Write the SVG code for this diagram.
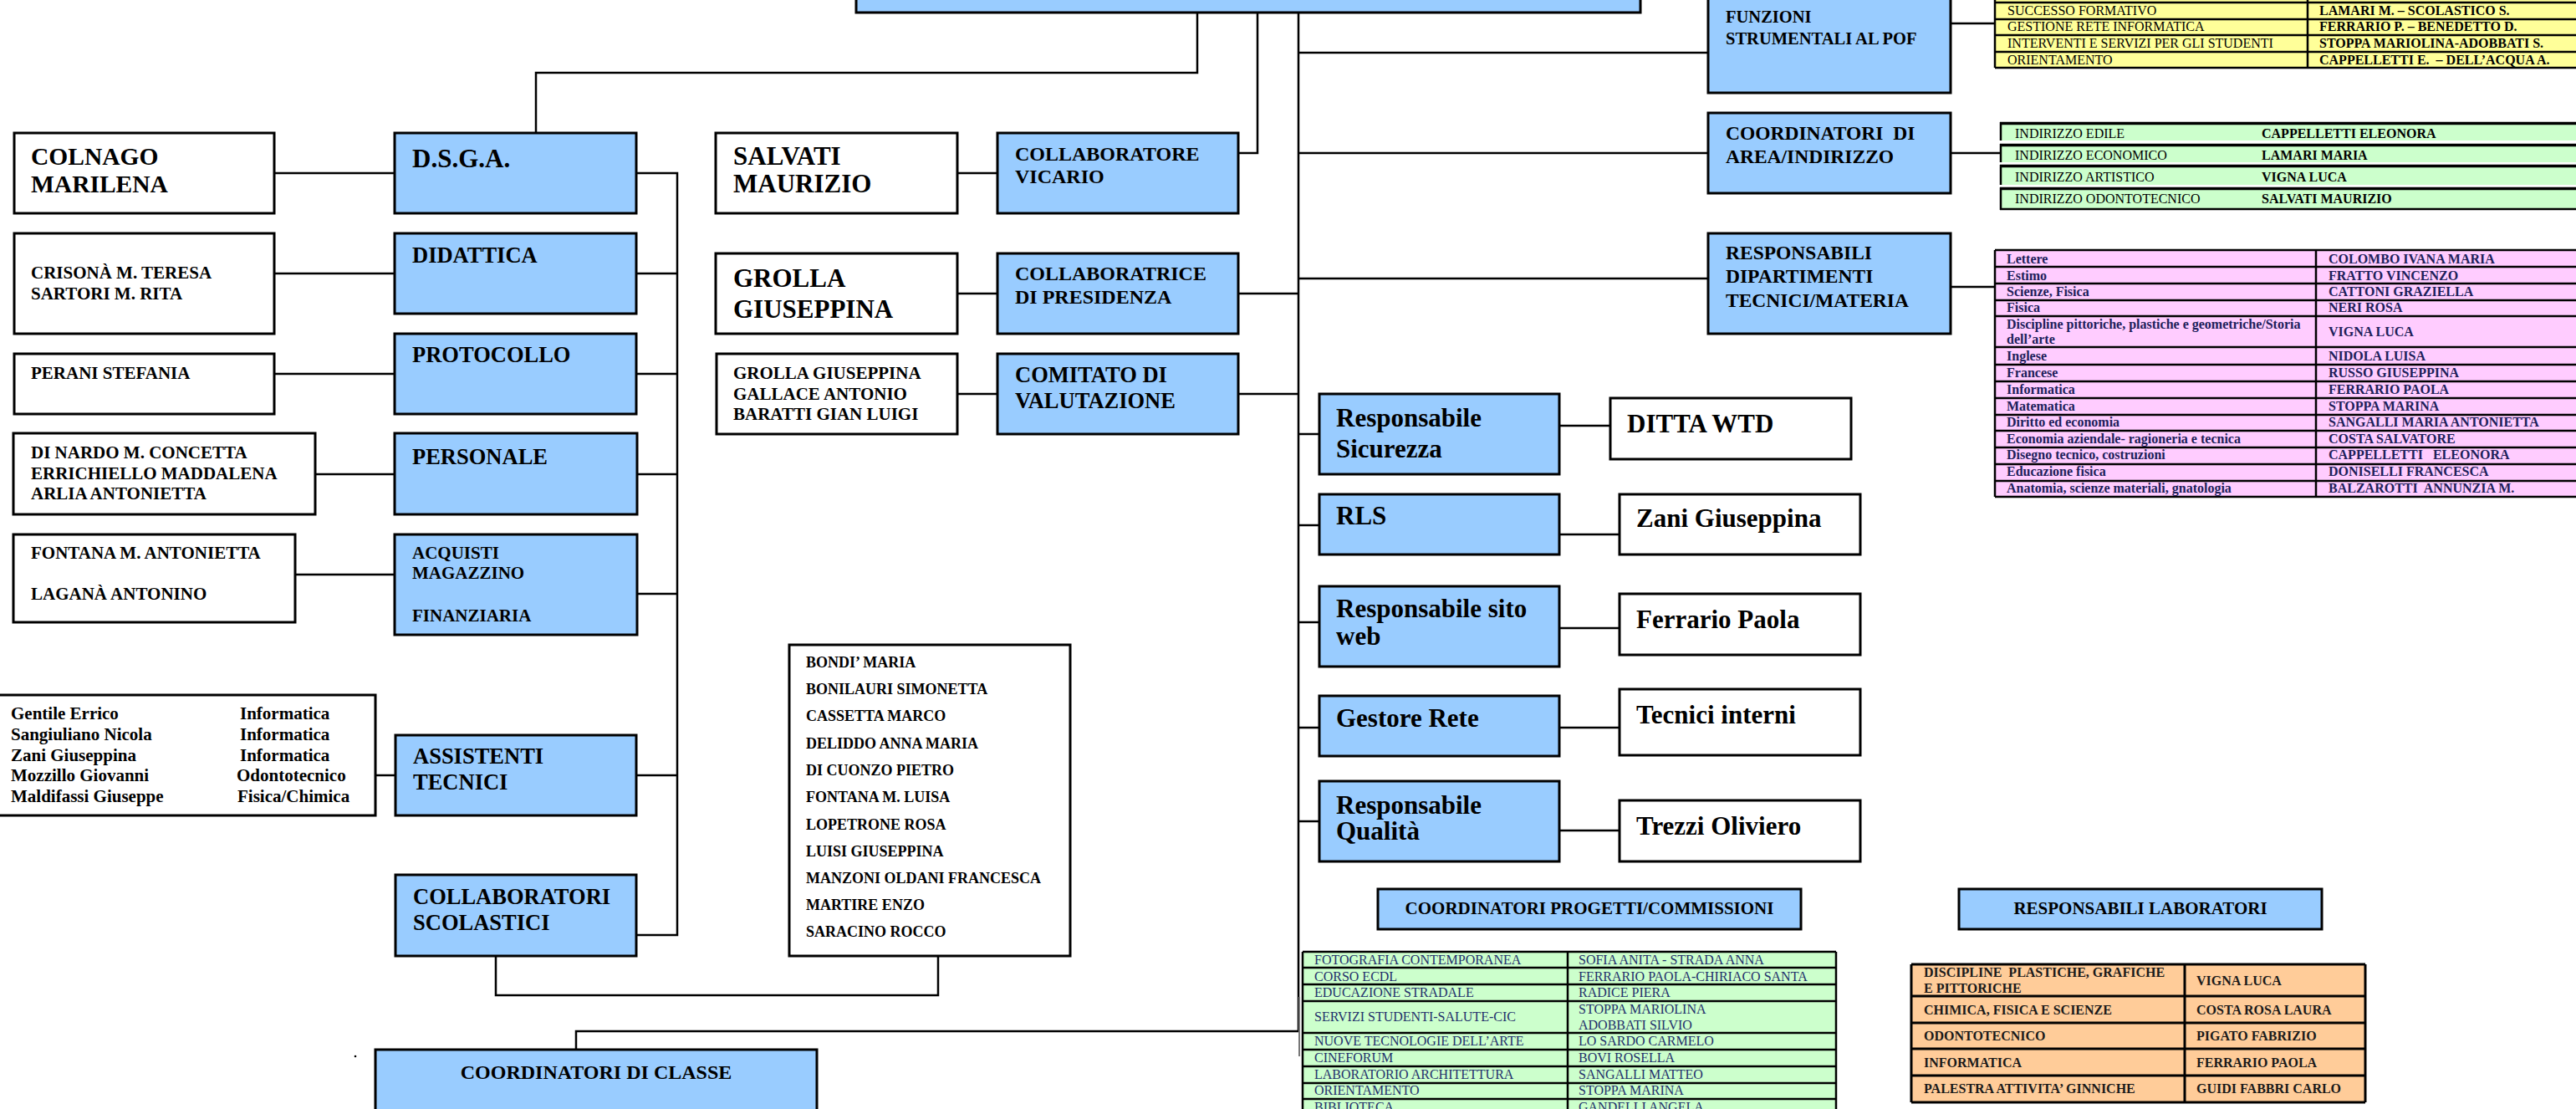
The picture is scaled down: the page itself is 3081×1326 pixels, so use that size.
<svg xmlns="http://www.w3.org/2000/svg" width="3081" height="1326" viewBox="0 0 3081 1326">
<style>
.b{fill:#99CCFF;stroke:#000;stroke-width:3}
.w{fill:#fff;stroke:#000;stroke-width:3}
.c{fill:none;stroke:#000;stroke-width:2.5}
.g{fill:none;stroke:#000;stroke-width:2.5}
text{font-family:"Liberation Serif","Times New Roman",serif;font-weight:bold;fill:#000}
.f21{font-size:21px}.f24{font-size:24px}.f26{font-size:26.5px}.f29{font-size:29.5px}.f30{font-size:31px}.f31{font-size:31px}
.f20{font-size:20.5px}.f23{font-size:23.5px}
.tb{font-size:16px}
.reg{font-weight:normal}
.navy{fill:#1F2F6B}
.pk{fill:#20205A}
.dk{fill:#1A1A1A}
</style>
<rect width="3081" height="1326" fill="#fff"/>

<g id="connectors">
  <path class="c" d="M1432 15V87H641V159"/>
  <path class="c" d="M1504 15V183H1481"/>
  <path class="c" d="M1553 15V1233"/>
  <path d="M1554 1192V1263" stroke="#777" stroke-width="2" fill="none"/>
  <path class="c" d="M1553 63H2043M1553 183H2043M1553 333H2043"/>
  <path class="c" d="M1481 351H1553M1481 471H1553"/>
  <path class="c" d="M1553 519H1578M1553 628H1578M1553 744H1578M1553 870H1578M1553 982H1578"/>
  <path class="c" d="M1865 509H1926M1865 639H1937M1865 751H1937M1865 870H1937M1865 993H1937"/>
  <path class="c" d="M2333 28H2386M2333 183H2392M2333 343H2386"/>
  <path class="c" d="M1145 207H1193M1145 351H1193M1145 471H1193"/>
  <path class="c" d="M761 207H810V1118H761"/>
  <path class="c" d="M761 327H810M761 447H810M762 567H810M762 710H810M761 927H810"/>
  <path class="c" d="M328 207H472M328 327H472M328 447H472M377 567H472M353 687H472M449 927H473"/>
  <path class="c" d="M593 1143V1190H1122V1143"/>
  <path class="c" d="M1553 1233H689V1255"/>
  <circle cx="425" cy="1263" r="1.3" fill="#000"/>
</g>

<g id="header"><rect class="b" x="1024" y="-40" width="938" height="55"/></g>

<g id="colnago"><rect class="w" x="17" y="159" width="311" height="96"/>
<text class="f29" x="37" y="197">COLNAGO</text><text class="f29" x="37" y="230">MARILENA</text></g>
<g id="dsga"><rect class="b" x="472" y="159" width="289" height="96"/><text class="f31" x="493" y="200">D.S.G.A.</text></g>

<g id="crisona"><rect class="w" x="17" y="279" width="311" height="120"/>
<text class="f21" x="37" y="333">CRISONÀ M. TERESA</text><text class="f21" x="37" y="358">SARTORI M. RITA</text></g>
<g id="didattica"><rect class="b" x="472" y="279" width="289" height="96"/><text class="f26" x="493" y="314">DIDATTICA</text></g>

<g id="perani"><rect class="w" x="17" y="423" width="311" height="72"/><text class="f21" x="37" y="453">PERANI STEFANIA</text></g>
<g id="protocollo"><rect class="b" x="472" y="399" width="289" height="96"/><text class="f26" x="493" y="433">PROTOCOLLO</text></g>

<g id="dinardo"><rect class="w" x="16" y="518" width="361" height="97"/>
<text class="f21" x="37" y="548">DI NARDO M. CONCETTA</text><text class="f21" x="37" y="573">ERRICHIELLO MADDALENA</text><text class="f21" x="37" y="597">ARLIA ANTONIETTA</text></g>
<g id="personale"><rect class="b" x="472" y="518" width="290" height="97"/><text class="f26" x="493" y="555">PERSONALE</text></g>

<g id="fontana"><rect class="w" x="16" y="639" width="337" height="105"/>
<text class="f21" x="37" y="668">FONTANA M. ANTONIETTA</text><text class="f21" x="37" y="717">LAGANÀ ANTONINO</text></g>
<g id="acquisti"><rect class="b" x="472" y="639" width="290" height="120"/>
<text class="f21" x="493" y="668">ACQUISTI</text><text class="f21" x="493" y="692">MAGAZZINO</text><text class="f21" x="493" y="743">FINANZIARIA</text></g>

<g id="gentile"><rect class="w" x="-3" y="831" width="452" height="144"/>
<text class="f21" x="13" y="860">Gentile Errico</text><text class="f21" x="287" y="860">Informatica</text>
<text class="f21" x="13" y="885">Sangiuliano Nicola</text><text class="f21" x="287" y="885">Informatica</text>
<text class="f21" x="13" y="910">Zani Giuseppina</text><text class="f21" x="287" y="910">Informatica</text>
<text class="f21" x="13" y="934">Mozzillo Giovanni</text><text class="f21" x="283" y="934">Odontotecnico</text>
<text class="f21" x="13" y="959">Maldifassi Giuseppe</text><text class="f21" x="284" y="959">Fisica/Chimica</text></g>
<g id="assistenti"><rect class="b" x="473" y="879" width="288" height="96"/>
<text class="f26" x="494" y="913">ASSISTENTI</text><text class="f26" x="494" y="944">TECNICI</text></g>

<g id="collaboratori-scolastici"><rect class="b" x="473" y="1046" width="288" height="97"/>
<text class="f26" x="494" y="1081">COLLABORATORI</text><text class="f26" x="494" y="1112">SCOLASTICI</text></g>

<g id="coordinatori-classe"><rect class="b" x="449" y="1255" width="528" height="100"/>
<text class="f24" x="713" y="1290" text-anchor="middle">COORDINATORI DI CLASSE</text></g>

<g id="salvati"><rect class="w" x="856" y="159" width="289" height="96"/>
<text class="f30" x="877" y="197">SALVATI</text><text class="f30" x="877" y="230">MAURIZIO</text></g>
<g id="grolla"><rect class="w" x="856" y="303" width="289" height="96"/>
<text class="f30" x="877" y="343">GROLLA</text><text class="f30" x="877" y="380">GIUSEPPINA</text></g>
<g id="comitato-membri"><rect class="w" x="857" y="423" width="288" height="96"/>
<text class="f21" x="877" y="453">GROLLA GIUSEPPINA</text><text class="f21" x="877" y="478">GALLACE ANTONIO</text><text class="f21" x="877" y="502">BARATTI GIAN LUIGI</text></g>

<g id="bondi"><rect class="w" x="944" y="771" width="336" height="372"/>
<g font-size="18">
<text x="964" y="798">BONDI’ MARIA</text><text x="964" y="830">BONILAURI SIMONETTA</text><text x="964" y="862">CASSETTA MARCO</text>
<text x="964" y="895">DELIDDO ANNA MARIA</text><text x="964" y="927">DI CUONZO PIETRO</text><text x="964" y="959">FONTANA M. LUISA</text>
<text x="964" y="992">LOPETRONE ROSA</text><text x="964" y="1024">LUISI GIUSEPPINA</text><text x="964" y="1056">MANZONI OLDANI FRANCESCA</text>
<text x="964" y="1088">MARTIRE ENZO</text><text x="964" y="1120">SARACINO ROCCO</text></g></g>

<g id="vicario"><rect class="b" x="1193" y="159" width="288" height="96"/>
<text class="f24" x="1214" y="192">COLLABORATORE</text><text class="f24" x="1214" y="219">VICARIO</text></g>
<g id="collaboratrice"><rect class="b" x="1193" y="303" width="288" height="96"/>
<text class="f24" x="1214" y="335">COLLABORATRICE</text><text class="f24" x="1214" y="363">DI PRESIDENZA</text></g>
<g id="comitato"><rect class="b" x="1193" y="423" width="288" height="96"/>
<text class="f26" x="1214" y="457">COMITATO DI</text><text class="f26" x="1214" y="488">VALUTAZIONE</text></g>

<g id="sicurezza"><rect class="b" x="1578" y="471" width="287" height="96"/>
<text class="f31" x="1598" y="510">Responsabile</text><text class="f31" x="1598" y="547">Sicurezza</text></g>
<g id="ditta"><rect class="w" x="1926" y="476" width="288" height="73"/><text class="f31" x="1946" y="517">DITTA WTD</text></g>
<g id="rls"><rect class="b" x="1578" y="591" width="287" height="72"/><text class="f31" x="1598" y="627">RLS</text></g>
<g id="zani"><rect class="w" x="1937" y="591" width="288" height="72"/><text class="f31" x="1957" y="630">Zani Giuseppina</text></g>
<g id="sito"><rect class="b" x="1578" y="701" width="287" height="96"/>
<text class="f31" x="1598" y="738">Responsabile sito</text><text class="f31" x="1598" y="771">web</text></g>
<g id="ferrario"><rect class="w" x="1937" y="710" width="288" height="73"/><text class="f31" x="1957" y="751">Ferrario Paola</text></g>
<g id="rete"><rect class="b" x="1578" y="832" width="287" height="72"/><text class="f31" x="1598" y="869">Gestore Rete</text></g>
<g id="tecnici"><rect class="w" x="1937" y="824" width="288" height="79"/><text class="f31" x="1957" y="865">Tecnici interni</text></g>
<g id="qualita"><rect class="b" x="1578" y="934" width="287" height="96"/>
<text class="f31" x="1598" y="973">Responsabile</text><text class="f31" x="1598" y="1004">Qualità</text></g>
<g id="trezzi"><rect class="w" x="1937" y="957" width="288" height="73"/><text class="f31" x="1957" y="998">Trezzi Oliviero</text></g>

<g id="funzioni"><rect class="b" x="2043" y="-10" width="290" height="121"/>
<text class="f20" x="2064" y="27">FUNZIONI</text><text class="f20" x="2064" y="53">STRUMENTALI AL POF</text></g>
<g id="coord-area"><rect class="b" x="2043" y="135" width="290" height="96"/>
<text class="f23" x="2064" y="167">COORDINATORI&#160; DI</text><text class="f23" x="2064" y="195">AREA/INDIRIZZO</text></g>
<g id="resp-dipartimenti"><rect class="b" x="2043" y="279" width="290" height="120"/>
<text class="f23" x="2064" y="310">RESPONSABILI</text><text class="f23" x="2064" y="338">DIPARTIMENTI</text><text class="f23" x="2064" y="367">TECNICI/MATERIA</text></g>

<g id="tabella-funzioni">
<rect x="2386" y="-20" width="720" height="101" fill="#FFFF99"/>
<path class="g" d="M2386 -20V81M2760 -20V81M2386 3H3100M2386 23H3100M2386 42H3100M2386 62H3100M2386 81H3100"/>
<g font-size="16">
<text class="reg" x="2401" y="18" fill="#222">SUCCESSO FORMATIVO</text><text x="2774" y="18" fill="#222">LAMARI M. – SCOLASTICO S.</text>
<text class="reg" x="2401" y="37" fill="#222">GESTIONE RETE INFORMATICA</text><text x="2774" y="37" fill="#222">FERRARIO P. – BENEDETTO D.</text>
<text class="reg" x="2401" y="57" fill="#222">INTERVENTI E SERVIZI PER GLI STUDENTI</text><text x="2774" y="57" fill="#222">STOPPA MARIOLINA-ADOBBATI S.</text>
<text class="reg" x="2401" y="77" fill="#222">ORIENTAMENTO</text><text x="2774" y="77" fill="#222" xml:space="preserve">CAPPELLETTI E.  – DELL’ACQUA A.</text></g></g>

<g id="tabella-indirizzi">
<rect x="2393" y="147" width="700" height="21" fill="#CCFFCC"/>
<rect x="2393" y="173" width="700" height="21" fill="#CCFFCC"/>
<rect x="2393" y="198" width="700" height="23" fill="#CCFFCC"/>
<rect x="2393" y="225" width="700" height="25" fill="#CCFFCC"/>
<path d="M2392 147.5H3100M2392 173.5H3100M2392 198.5H3100M2392 225.5H3100" stroke="#000" stroke-width="3.5"/>
<path d="M2393 146V168M2393 172V194M2393 197V221M2393 224V251M2392 250H3100" stroke="#000" stroke-width="2.5"/>
<g font-size="16">
<text class="reg" x="2410" y="165" fill="#222">INDIRIZZO EDILE</text><text x="2705" y="165" fill="#222">CAPPELLETTI ELEONORA</text>
<text class="reg" x="2410" y="191" fill="#222">INDIRIZZO ECONOMICO</text><text x="2705" y="191" fill="#222">LAMARI MARIA</text>
<text class="reg" x="2410" y="217" fill="#222">INDIRIZZO ARTISTICO</text><text x="2705" y="217" fill="#222">VIGNA LUCA</text>
<text class="reg" x="2410" y="243" fill="#222">INDIRIZZO ODONTOTECNICO</text><text x="2705" y="243" fill="#222">SALVATI MAURIZIO</text></g></g>

<g id="tabella-dipartimenti">
<rect x="2386" y="299" width="720" height="295" fill="#FFCCFF"/>
<path class="g" d="M2386 299V594M2770 299V594M2386 299H3100M2386 319H3100M2386 339H3100M2386 359H3100M2386 378H3100M2386 415H3100M2386 436H3100M2386 456H3100M2386 476H3100M2386 496H3100M2386 515H3100M2386 535H3100M2386 555H3100M2386 575H3100M2386 594H3100"/>
<g font-size="16">
<text class="pk" x="2400" y="315">Lettere</text><text class="pk" x="2785" y="315">COLOMBO IVANA MARIA</text>
<text class="pk" x="2400" y="335">Estimo</text><text class="pk" x="2785" y="335">FRATTO VINCENZO</text>
<text class="pk" x="2400" y="354">Scienze, Fisica</text><text class="pk" x="2785" y="354">CATTONI GRAZIELLA</text>
<text class="pk" x="2400" y="373">Fisica</text><text class="pk" x="2785" y="373">NERI ROSA</text>
<text class="pk" x="2400" y="393">Discipline pittoriche, plastiche e geometriche/Storia</text><text class="pk" x="2400" y="411">dell’arte</text><text class="pk" x="2785" y="402">VIGNA LUCA</text>
<text class="pk" x="2400" y="431">Inglese</text><text class="pk" x="2785" y="431">NIDOLA LUISA</text>
<text class="pk" x="2400" y="451">Francese</text><text class="pk" x="2785" y="451">RUSSO GIUSEPPINA</text>
<text class="pk" x="2400" y="471">Informatica</text><text class="pk" x="2785" y="471">FERRARIO PAOLA</text>
<text class="pk" x="2400" y="491">Matematica</text><text class="pk" x="2785" y="491">STOPPA MARINA</text>
<text class="pk" x="2400" y="510">Diritto ed economia</text><text class="pk" x="2785" y="510">SANGALLI MARIA ANTONIETTA</text>
<text class="pk" x="2400" y="530">Economia aziendale- ragioneria e tecnica</text><text class="pk" x="2785" y="530">COSTA SALVATORE</text>
<text class="pk" x="2400" y="549">Disegno tecnico, costruzioni</text><text class="pk" x="2785" y="549" xml:space="preserve">CAPPELLETTI   ELEONORA</text>
<text class="pk" x="2400" y="569">Educazione fisica</text><text class="pk" x="2785" y="569">DONISELLI FRANCESCA</text>
<text class="pk" x="2400" y="589">Anatomia, scienze materiali, gnatologia</text><text class="pk" x="2785" y="589" xml:space="preserve">BALZAROTTI  ANNUNZIA M.</text></g></g>

<g id="coord-progetti"><rect class="b" x="1648" y="1063" width="506" height="48"/>
<text font-size="21" x="1901" y="1093" text-anchor="middle">COORDINATORI PROGETTI/COMMISSIONI</text></g>
<g id="tabella-progetti">
<rect x="1558" y="1138" width="638" height="200" fill="#CCFFCC"/>
<path class="g" d="M1558 1138V1340M1875 1138V1340M2196 1138V1340M1558 1138H2196M1558 1157H2196M1558 1177H2196M1558 1197H2196M1558 1235H2196M1558 1255H2196M1558 1275H2196M1558 1295H2196M1558 1314H2196"/>
<g font-size="16">
<text class="reg navy" x="1572" y="1153">FOTOGRAFIA CONTEMPORANEA</text><text class="reg navy" x="1888" y="1153">SOFIA ANITA - STRADA ANNA</text>
<text class="reg navy" x="1572" y="1173">CORSO ECDL</text><text class="reg navy" x="1888" y="1173">FERRARIO PAOLA-CHIRIACO SANTA</text>
<text class="reg navy" x="1572" y="1192">EDUCAZIONE STRADALE</text><text class="reg navy" x="1888" y="1192">RADICE PIERA</text>
<text class="reg navy" x="1572" y="1221">SERVIZI STUDENTI-SALUTE-CIC</text><text class="reg navy" x="1888" y="1212">STOPPA MARIOLINA</text><text class="reg navy" x="1888" y="1231">ADOBBATI SILVIO</text>
<text class="reg navy" x="1572" y="1250">NUOVE TECNOLOGIE DELL’ARTE</text><text class="reg navy" x="1888" y="1250">LO SARDO CARMELO</text>
<text class="reg navy" x="1572" y="1270">CINEFORUM</text><text class="reg navy" x="1888" y="1270">BOVI ROSELLA</text>
<text class="reg navy" x="1572" y="1290">LABORATORIO ARCHITETTURA</text><text class="reg navy" x="1888" y="1290">SANGALLI MATTEO</text>
<text class="reg navy" x="1572" y="1309">ORIENTAMENTO</text><text class="reg navy" x="1888" y="1309">STOPPA MARINA</text>
<text class="reg navy" x="1572" y="1329">BIBLIOTECA</text><text class="reg navy" x="1888" y="1329">GANDELLI ANGELA</text></g></g>

<g id="resp-laboratori"><rect class="b" x="2343" y="1063" width="434" height="48"/>
<text font-size="21" x="2560" y="1093" text-anchor="middle">RESPONSABILI LABORATORI</text></g>
<g id="tabella-laboratori">
<rect x="2286" y="1153" width="543" height="165" fill="#FFCC99"/>
<path d="M2286 1153V1318M2613 1153V1318M2829 1153V1318M2286 1153H2829M2286 1191H2829M2286 1223H2829M2286 1254H2829M2286 1286H2829M2286 1318H2829" stroke="#000" stroke-width="3" fill="none"/>
<g font-size="16">
<text class="dk" x="2301" y="1168" xml:space="preserve">DISCIPLINE  PLASTICHE, GRAFICHE</text><text class="dk" x="2301" y="1187">E PITTORICHE</text><text class="dk" x="2627" y="1178">VIGNA LUCA</text>
<text class="dk" x="2301" y="1213">CHIMICA, FISICA E SCIENZE</text><text class="dk" x="2627" y="1213">COSTA ROSA LAURA</text>
<text class="dk" x="2301" y="1244">ODONTOTECNICO</text><text class="dk" x="2627" y="1244">PIGATO FABRIZIO</text>
<text class="dk" x="2301" y="1276">INFORMATICA</text><text class="dk" x="2627" y="1276">FERRARIO PAOLA</text>
<text class="dk" x="2301" y="1307">PALESTRA ATTIVITA’ GINNICHE</text><text class="dk" x="2627" y="1307">GUIDI FABBRI CARLO</text></g></g>
</svg>
